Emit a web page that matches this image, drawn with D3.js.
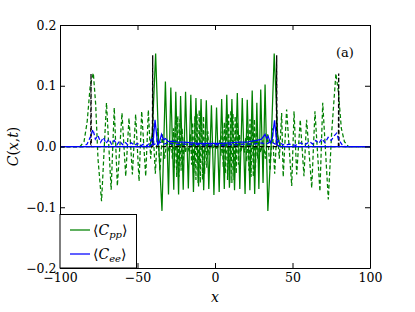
<!DOCTYPE html>
<html>
<head>
<meta charset="utf-8">
<script src="https://cdn.jsdelivr.net/npm/d3@7"></script>
<style>
	body { margin: 0; background: #fff; }
	text { font-family: "DejaVu Serif", serif; }
</style>
</head>
<body>
<div id="chart"></div>
<script>
const xTicks = [-100, -50, 0, 50, 100];
const xTickLabels = ["\u2212100", "\u221250", "0", "50", "100"];
const yTicks = [-0.2, -0.1, 0.0, 0.1, 0.2];
const yTickLabels = ["\u22120.2", "\u22120.1", "0.0", "0.1", "0.2"];

// <C_pp>, solid green
const cppSolid = [
	[-100, 0], [-42, 0], [-40.5, 0.02], [-38.3, 0.153], [-36.3, 0.0], [-34.2, -0.106],
	[-32.0, 0.107], [-30.0, -0.079], [-28.5, 0.097], [-26.6, -0.071], [-25.3, 0.09],
	[-23.5, -0.079], [-22.2, 0.083], [-20.5, -0.071], [-19.0, 0.09], [-17.2, -0.069],
	[-15.6, 0.085], [-13.9, -0.075], [-12.3, 0.08], [-10.6, -0.066], [-9.0, 0.078],
	[-7.3, -0.072], [-5.6, 0.076], [-4.0, -0.07], [-2.3, 0.068], [-0.7, -0.08],
	[1.0, 0.064], [2.7, -0.075], [4.3, 0.078], [6.0, -0.07], [7.6, 0.085],
	[9.3, -0.068], [10.9, 0.078], [12.6, -0.072], [14.4, 0.088], [16.0, -0.07],
	[17.6, 0.08], [19.4, -0.078], [20.8, 0.077], [22.5, -0.072], [24.0, 0.092],
	[25.6, -0.078], [27.0, 0.072], [28.3, -0.07], [29.5, 0.094], [31.0, -0.06],
	[32.3, 0.102], [34.1, -0.106], [36.2, 0.0], [38.2, 0.153], [40.4, 0.02],
	[42, 0], [100, 0]
];

// dashed green
const cppDashed = [
	[-100, 0], [-87, 0], [-84.5, 0.008], [-82.5, 0.04], [-80.5, 0.1], [-78.5, 0.121],
	[-77, 0.07], [-75.5, -0.02], [-73.2, -0.09], [-70, 0.072], [-67, -0.071],
	[-65, 0.064], [-63, -0.065], [-60, 0.055], [-57.6, -0.049], [-55.5, 0.047],
	[-53.3, -0.046], [-51.2, 0.053], [-49, -0.057], [-47.3, 0.058], [-44.7, -0.049],
	[-43, 0.06], [-41.5, -0.02], [-40, 0.03], [-38.5, -0.045], [-37, 0.03],
	[-35.5, -0.04], [-34, 0.02], [-32.5, -0.02], [-31, 0.01], [-29.5, -0.01],
	[-28.2, 0.01], [-27.5, -0.02], [-26.8, 0.03], [-26.1, -0.035], [-25.4, 0.045],
	[-24.7, -0.05], [-24, 0.05], [-23.3, -0.05], [-22.6, 0.045], [-21.9, -0.04],
	[-21.2, 0.03], [-20.5, -0.025], [-19.8, 0.015], [-19.1, -0.01], [-18, 0.005],
	[-16.5, -0.01], [-15.8, 0.02], [-15.1, -0.03], [-14.4, 0.04], [-13.7, -0.045],
	[-13, 0.05], [-12.3, -0.055], [-11.6, 0.055], [-10.9, -0.06], [-10.2, 0.06],
	[-9.5, -0.06], [-8.8, 0.055], [-8.1, -0.055], [-7.4, 0.05], [-6.7, -0.045],
	[-6, 0.04], [-5.3, -0.035], [-4.6, 0.025], [-3.9, -0.015], [-3, 0.01],
	[-1.5, -0.005], [0, 0.005], [1.5, -0.005], [3, 0.01], [3.9, -0.015],
	[4.6, 0.025], [5.3, -0.035], [6, 0.04], [6.7, -0.045], [7.4, 0.05],
	[8.1, -0.055], [8.8, 0.055], [9.5, -0.06], [10.2, 0.06], [10.9, -0.06],
	[11.6, 0.055], [12.3, -0.055], [13, 0.05], [13.7, -0.045], [14.4, 0.04],
	[15.1, -0.03], [15.8, 0.02], [16.5, -0.01], [18, 0.005], [19.1, -0.01],
	[19.8, 0.015], [20.5, -0.025], [21.2, 0.03], [21.9, -0.04], [22.6, 0.045],
	[23.3, -0.05], [24, 0.05], [24.7, -0.05], [25.4, 0.045], [26.1, -0.035],
	[26.8, 0.03], [27.5, -0.02], [28.2, 0.01], [29.5, -0.01], [31, 0.01],
	[32.5, -0.02], [34, 0.02], [35.5, -0.04], [37, 0.03], [38.5, -0.045],
	[40, 0.03], [41.5, -0.02], [43, 0.055], [44, -0.05], [46.2, 0.061],
	[49.5, -0.065], [51, 0.058], [52.7, -0.046], [55, 0.044], [57.4, -0.049],
	[59.1, 0.044], [62.4, -0.068], [64.5, 0.058], [67.7, -0.074], [69.5, 0.072],
	[73.1, -0.087], [75.2, 0.02], [78, 0.12], [79.6, 0.09], [81.5, 0.03],
	[83.5, 0.008], [86, 0], [100, 0]
];

// dashed black
const frontDashed = [
	[-100, 0], [-80.2, 0], [-80, 0.12], [-79.8, 0], [-40.4, 0], [-40.2, 0.15],
	[-40.0, 0], [39.6, 0], [39.8, 0.15], [40.0, 0], [79.6, 0], [79.8, 0.12],
	[80.0, 0], [100, 0]
];

// <C_ee>, solid blue
const ceeSolid = [
	[-100, 0], [-42, 0], [-40, 0.005], [-38.7, 0.044], [-37.0, 0.003], [-36, 0.006],
	[-34.5, 0.02], [-33.3, 0.011], [-32, 0.013], [-30, 0.008], [-27, 0.009],
	[-24, 0.007], [-20, 0.007], [-15, 0.006], [-10, 0.005], [-5, 0.005], [0, 0.005],
	[5, 0.005], [10, 0.006], [15, 0.007], [20, 0.007], [24, 0.009], [27, 0.01],
	[30, 0.012], [32.3, 0.02], [33.3, 0.013], [34.3, 0.017], [35.7, 0.006],
	[37, 0.014], [38.4, 0.043], [40, 0.003], [42, 0], [100, 0]
];

// dashed blue
const ceeDashed = [
	[-100, 0], [-85, 0], [-82.5, 0.004], [-80.5, 0.015], [-78.7, 0.028], [-77.2, 0.012],
	[-75.5, 0.018], [-73.8, 0.007], [-72, 0.015], [-70.3, 0.005], [-68.5, 0.012],
	[-66.8, 0.004], [-65, 0.01], [-63.2, 0.003], [-61.5, 0.009], [-59.7, 0.003],
	[-58, 0.007], [-56, 0.002], [-54, 0.006], [-52, 0.002], [-50, 0.005], [-48, 0.001],
	[-46, 0.004], [-44, 0.001], [-42.5, 0.005], [-41, 0.012], [-39.5, 0.003],
	[-36, 0.008], [-33, 0.004], [-30, 0.006], [-25, 0.003], [-20, 0.004], [-15, 0.003],
	[-10, 0.003], [-5, 0.002], [0, 0.003], [5, 0.002], [10, 0.003], [15, 0.003],
	[20, 0.004], [25, 0.004], [30, 0.006], [33, 0.004], [36, 0.008], [39.5, 0.003],
	[41, 0.01], [42.5, 0.005], [45, 0.002], [48, 0.004], [52, 0.002], [55, 0.006],
	[58, 0.003], [61, 0.008], [63, 0.004], [65, 0.01], [67, 0.005], [69, 0.013],
	[71, 0.006], [73, 0.015], [75, 0.01], [77, 0.018], [78.5, 0.022], [80, 0.01],
	[82, 0.003], [84, 0], [100, 0]
];

const series = [
	{data: cppSolid, color: "#008000", dash: null},
	{data: cppDashed, color: "#008000", dash: "4,2.5"},
	{data: frontDashed, color: "#000000", dash: "4,2.5"},
	{data: ceeSolid, color: "#0000ff", dash: null},
	{data: ceeDashed, color: "#0000ff", dash: "4,2.5"}
];

const legendItems = [
	{color: "#008000", sub: "pp"},
	{color: "#0000ff", sub: "ee"}
];

const margin = {top: 25, right: 45, bottom: 44, left: 60};
const fullWidth = 415, fullHeight = 312;
const width = fullWidth - margin.left - margin.right;
const height = fullHeight - margin.top - margin.bottom;

const svg = d3.select("#chart")
	.append("svg")
		.attr("width", fullWidth)
		.attr("height", fullHeight)
	.append("g")
		.attr("transform", `translate(${margin.left}, ${margin.top})`);

const x = d3.scaleLinear().domain([-100, 100]).range([0, width]);
const y = d3.scaleLinear().domain([-0.2, 0.2]).range([height, 0]);

svg.append("clipPath")
	.attr("id", "plot-clip")
	.append("rect")
		.attr("width", width)
		.attr("height", height);

const line = d3.line()
	.x(d => x(d[0]))
	.y(d => y(d[1]));

const lines = svg.append("g").attr("clip-path", "url(#plot-clip)");
series.forEach(s => {
	lines.append("path")
		.datum(s.data)
		.attr("fill", "none")
		.attr("stroke", s.color)
		.attr("stroke-width", 1.25)
		.attr("stroke-linejoin", "miter")
		.attr("stroke-dasharray", s.dash)
		.attr("d", line);
});

// axes, ticks pointing inward
const fontSize = 12.5;
svg.append("g")
	.attr("transform", `translate(0, ${height})`)
	.call(d3.axisBottom(x).tickValues(xTicks).tickSize(-5).tickSizeOuter(0).tickPadding(5)
		.tickFormat((d, i) => xTickLabels[i]));
svg.append("g")
	.call(d3.axisLeft(y).tickValues(yTicks).tickSize(-5).tickSizeOuter(0).tickPadding(3.5)
		.tickFormat((d, i) => yTickLabels[i]));
svg.append("g")
	.call(d3.axisTop(x).tickValues(xTicks).tickSize(-5).tickSizeOuter(0).tickFormat(""));
svg.append("g")
	.attr("transform", `translate(${width}, 0)`)
	.call(d3.axisRight(y).tickValues(yTicks).tickSize(-5).tickSizeOuter(0).tickFormat(""));

svg.selectAll(".tick text")
	.attr("fill", "#000")
	.style("font-size", fontSize + "px")
	.style("font-family", "'DejaVu Serif', serif");
svg.selectAll(".domain, .tick line")
	.attr("stroke", "#000");

// legend
const legend = svg.append("g")
	.attr("transform", `translate(0, ${height})`);
legend.append("rect")
	.attr("x", 0)
	.attr("y", -53.5)
	.attr("width", 76.5)
	.attr("height", 53.5)
	.attr("fill", "#fff")
	.attr("stroke", "#000")
	.attr("stroke-width", 1);

legendItems.forEach((item, i) => {
	const ly = -38 + i * 24;
	legend.append("line")
		.attr("x1", 10)
		.attr("x2", 30)
		.attr("y1", ly)
		.attr("y2", ly)
		.attr("stroke", item.color)
		.attr("stroke-width", 1.25);
	const t = legend.append("text")
		.attr("x", 33)
		.attr("y", ly + 5)
		.style("font-size", "14px");
	t.append("tspan").text("\u27E8");
	t.append("tspan").style("font-style", "italic").text("C");
	t.append("tspan")
		.style("font-style", "italic")
		.style("font-size", "10px")
		.attr("dy", 3)
		.text(item.sub);
	t.append("tspan").attr("dy", -3).text("\u27E9");
});

// panel tag
svg.append("text")
	.attr("x", width - 34)
	.attr("y", 32)
	.style("font-size", "13px")
	.text("(a)");

// axis labels
svg.append("text")
	.attr("x", width / 2)
	.attr("y", height + 33.5)
	.attr("text-anchor", "middle")
	.style("font-size", "14px")
	.style("font-style", "italic")
	.text("x");

const yLabel = svg.append("text")
	.attr("transform", `translate(${-42}, ${height / 2}) rotate(-90)`)
	.attr("text-anchor", "middle")
	.style("font-size", "14px");
yLabel.append("tspan").style("font-style", "italic").text("C");
yLabel.append("tspan").text("(");
yLabel.append("tspan").style("font-style", "italic").text("x");
yLabel.append("tspan").text(",");
yLabel.append("tspan").style("font-style", "italic").text("t");
yLabel.append("tspan").text(")");
</script>
</body>
</html>
